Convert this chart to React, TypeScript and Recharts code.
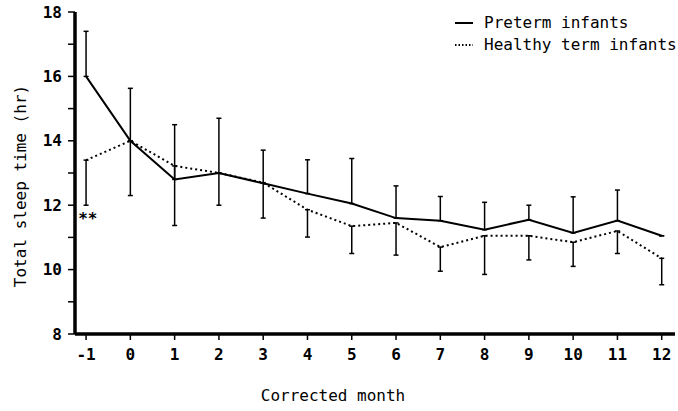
import React from "react";
import {
  LineChart,
  Line,
  XAxis,
  YAxis,
  ErrorBar,
  ReferenceDot
} from "recharts";

const months = [-1, 0, 1, 2, 3, 4, 5, 6, 7, 8, 9, 10, 11, 12];
const pretermMean = [16.0, 14.0, 12.8, 13.0, 12.68, 12.36, 12.05, 11.6, 11.52, 11.24, 11.55, 11.14, 11.52, 11.05];
const termMean = [13.4, 14.0, 13.22, 13.0, 12.7, 11.86, 11.35, 11.45, 10.7, 11.05, 11.05, 10.85, 11.2, 10.35];
// upper SD drawn for preterm, lower SD drawn for term
const pretermSdUp = [1.4, 1.63, 1.7, 1.7, 1.03, 1.05, 1.4, 1.0, 0.75, 0.85, 0.45, 1.12, 0.95, 0];
const termSdDown = [1.4, 1.7, 1.85, 1.0, 1.1, 0.85, 0.85, 1.0, 0.75, 1.2, 0.75, 0.75, 0.7, 0.82];
const xTicks = [-1, 0, 1, 2, 3, 4, 5, 6, 7, 8, 9, 10, 11, 12];
const yTicks = [8, 9, 10, 11, 12, 13, 14, 15, 16, 17, 18];

const FONT = "'DejaVu Sans Mono', monospace";

const data = months.map((m, i) => ({
  month: m,
  preterm: pretermMean[i],
  term: termMean[i],
  pretermErr: [0, pretermSdUp[i]],
  termErr: [termSdDown[i], 0]
}));

const LegendBox = () => (
  <div
    style={{
      position: "absolute",
      left: 454,
      top: 12,
      fontFamily: FONT,
      fontSize: 16,
      lineHeight: "22px",
      color: "#000"
    }}
  >
    <div style={{ display: "flex", alignItems: "center" }}>
      <svg width={30} height={22}>
        <line x1={1} y1={11} x2={19} y2={11} stroke="#000" strokeWidth={2} />
      </svg>
      <span>Preterm infants</span>
    </div>
    <div style={{ display: "flex", alignItems: "center" }}>
      <svg width={30} height={22}>
        <line x1={1} y1={11} x2={19} y2={11} stroke="#000" strokeWidth={2} strokeDasharray="1.5 2" />
      </svg>
      <span>Healthy term infants</span>
    </div>
  </div>
);

const App = () => {
  return (
    <div style={{ position: "absolute", left: 0, top: 0, width: 678, height: 411, background: "#fff" }}>
      <LineChart
        width={678}
        height={411}
        data={data}
        margin={{ top: 12, right: 3, left: 15, bottom: 7 }}
      >
        <XAxis
          dataKey="month"
          type="number"
          domain={[-1.25, 12.3]}
          ticks={xTicks}
          allowDataOverflow
          height={70}
          tickSize={6}
          tickMargin={9}
          axisLine={{ stroke: "#000", strokeWidth: 3.5 }}
          tickLine={{ stroke: "#000", strokeWidth: 1.5 }}
          tick={{ fontFamily: FONT, fontSize: 16, fontWeight: "bold", fill: "#000" }}
          label={{
            value: "Corrected month",
            position: "insideBottom",
            offset: 3,
            dx: -42,
            style: { fontFamily: FONT, fontSize: 16, fill: "#000" }
          }}
        />
        <YAxis
          type="number"
          domain={[8, 18]}
          ticks={yTicks}
          interval={0}
          width={60}
          tickSize={7}
          tickMargin={6}
          tickFormatter={(v: number) => (v % 2 === 0 ? String(v) : "")}
          axisLine={{ stroke: "#000", strokeWidth: 3.5 }}
          tickLine={{ stroke: "#000", strokeWidth: 1.5 }}
          tick={{ fontFamily: FONT, fontSize: 16, fontWeight: "bold", fill: "#000" }}
          label={{
            value: "Total sleep time (hr)",
            angle: -90,
            position: "insideLeft",
            dy: 13,
            style: { textAnchor: "middle", fontFamily: FONT, fontSize: 16, fill: "#000" }
          }}
        />
        <Line
          type="linear"
          dataKey="term"
          stroke="#000"
          strokeWidth={2}
          strokeDasharray="2 3"
          dot={false}
          isAnimationActive={false}
        >
          <ErrorBar dataKey="termErr" direction="y" width={2.5} stroke="#000" strokeWidth={1.5} />
        </Line>
        <Line
          type="linear"
          dataKey="preterm"
          stroke="#000"
          strokeWidth={2}
          dot={false}
          isAnimationActive={false}
        >
          <ErrorBar dataKey="pretermErr" direction="y" width={2.5} stroke="#000" strokeWidth={1.5} />
        </Line>
        <ReferenceDot
          x={-0.96}
          y={11.58}
          r={0}
          stroke="none"
          fill="none"
          label={{
            value: "**",
            position: "center",
            style: { fontFamily: FONT, fontSize: 16, fontWeight: "bold", fill: "#000" }
          }}
        />
      </LineChart>
      <LegendBox />
    </div>
  );
};

export default App;
